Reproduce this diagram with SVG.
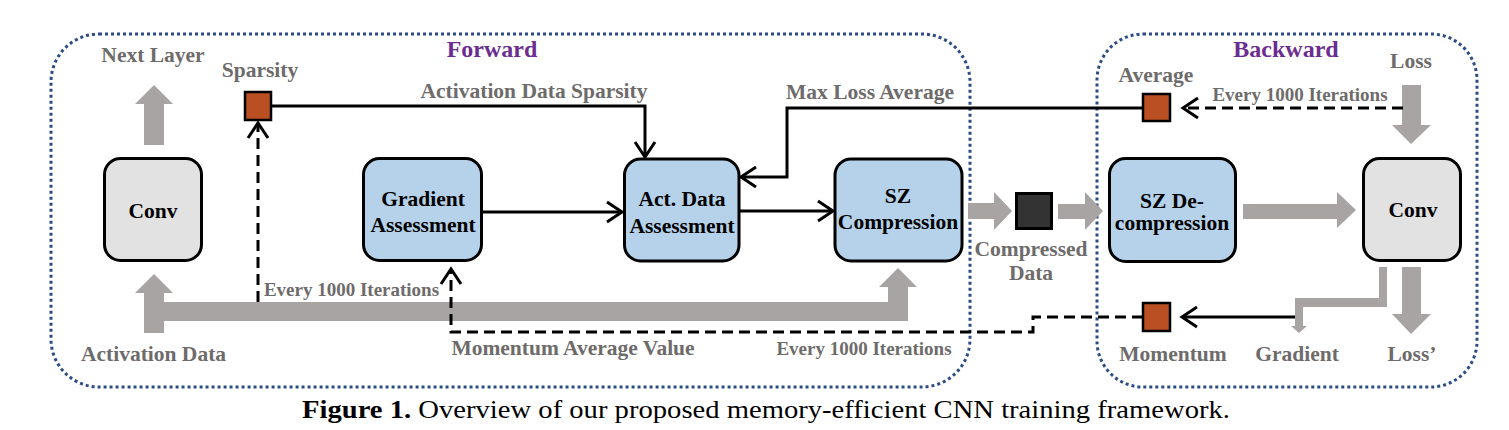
<svg xmlns="http://www.w3.org/2000/svg" width="1509" height="430" viewBox="0 0 1509 430">
<style>
text{font-family:"Liberation Serif","Times New Roman",serif;font-weight:bold;text-anchor:middle}
.lbl{font-size:21.5px;fill:#6e6b6b}
.it{font-size:19px;fill:#6e6b6b}
.ttl{font-size:24px;fill:#6b2d8f}
.bt{font-size:21.5px;fill:#000}
.frame{fill:none;stroke:#2b4c85;stroke-width:3;stroke-dasharray:3 3}
.box{stroke:#000;stroke-width:3}
.blue{fill:#b5d2ea}
.grey{fill:#e2e2e2}
.sq{fill:#b94f22;stroke:#000;stroke-width:2.5}
.conn{fill:none;stroke:#000;stroke-width:3}
.dash{stroke-dasharray:11 6}
.ga{fill:#a8a4a3}
</style>
<defs>
<marker id="ah" markerUnits="userSpaceOnUse" markerWidth="20" markerHeight="24" viewBox="0 0 20 22" refX="15" refY="11" orient="auto">
<path d="M1 1 L16 11 L1 21" fill="none" stroke="#000" stroke-width="3"/>
</marker>
</defs>

<g id="frames">
<rect class="frame" x="51" y="34" width="919" height="353" rx="48"/>
<rect class="frame" x="1097" y="34" width="380" height="353" rx="46"/>
<text class="ttl" x="492" y="57">Forward</text>
<text class="ttl" x="1286" y="57">Backward</text>
</g>

<g id="flows">
<polygon class="ga" points="144,145 144,104 135,104 154,85 173,104 164,104 164,145"/>
<polygon class="ga" points="144,333 144,293 135,293 154,274 173,293 164,293 164,302 888,302 888,287 879,287 898,268 917,287 908,287 908,321 164,321 164,333"/>
<polygon class="ga" points="968,203 994,203 994,192 1012,211 994,230 994,219 968,219"/>
<polygon class="ga" points="1058,204 1085,204 1085,192 1103,211 1085,230 1085,219 1058,219"/>
<polygon class="ga" points="1243,204 1337,204 1337,192 1356,210 1337,228 1337,219 1243,219"/>
<polygon class="ga" points="1402,85 1421,85 1421,125 1431,125 1411,144 1392,125 1402,125"/>
<polygon class="ga" points="1402,267 1421,267 1421,314 1431,314 1411,334 1392,314 1402,314"/>
<polygon class="ga" points="1379,267 1387,267 1387,307 1303,307 1303,326 1307,326 1299,333 1291,326 1295,326 1295,298 1379,298"/>
</g>

<g id="connectors">
<path class="conn" d="M272 106 H645 V156" marker-end="url(#ah)"/>
<path class="conn" d="M1143 108 H787 V177 H742" marker-end="url(#ah)"/>
<path class="conn" d="M483 212 H621" marker-end="url(#ah)"/>
<path class="conn" d="M740 211 H832" marker-end="url(#ah)"/>
<path class="conn dash" d="M1403 108 H1184" marker-end="url(#ah)"/>
<path class="conn" d="M1295 317 H1183" marker-end="url(#ah)"/>
<path class="conn dash" d="M1143 317 H1033 V332 H451 V270" marker-end="url(#ah)"/>
<path class="conn dash" d="M258 302 V124" marker-end="url(#ah)"/>
</g>

<g id="conv-fwd"><rect class="box grey" x="104.5" y="158.5" width="97" height="102" rx="16"/><text class="bt" x="153" y="218">Conv</text></g>
<g id="gradient-assessment"><rect class="box blue" x="363.5" y="158.5" width="118" height="102" rx="16"/><text class="bt" x="423" y="206">Gradient</text><text class="bt" x="423" y="232">Assessment</text></g>
<g id="act-data-assessment"><rect class="box blue" x="624.5" y="159" width="114.5" height="102" rx="16"/><text class="bt" x="682" y="206">Act. Data</text><text class="bt" x="682" y="233">Assessment</text></g>
<g id="sz-compression"><rect class="box blue" x="835" y="159" width="127" height="102" rx="16"/><text class="bt" x="898" y="203">SZ</text><text class="bt" x="898" y="229">Compression</text></g>
<g id="sz-decompression"><rect class="box blue" x="1109.5" y="158.5" width="126" height="103" rx="16"/><text class="bt" x="1172" y="208">SZ De-</text><text class="bt" x="1172" y="230">compression</text></g>
<g id="conv-bwd"><rect class="box grey" x="1363.5" y="158.5" width="97" height="102" rx="16"/><text class="bt" x="1413" y="217">Conv</text></g>

<g id="sparsity"><rect class="sq" x="245" y="92" width="26" height="28"/><text class="lbl" x="260" y="77">Sparsity</text></g>
<g id="average"><rect class="sq" x="1143" y="94" width="27" height="27"/><text class="lbl" x="1156" y="82">Average</text></g>
<g id="momentum"><rect class="sq" x="1143" y="303" width="27" height="28"/><text class="lbl" x="1173" y="361">Momentum</text></g>
<g id="compressed-data"><rect x="1016.5" y="193.5" width="35" height="35" fill="#333" stroke="#000" stroke-width="3"/><text class="lbl" x="1031" y="256">Compressed</text><text class="lbl" x="1031" y="280">Data</text></g>

<g id="labels">
<text class="lbl" x="153" y="62">Next Layer</text>
<text class="lbl" x="534" y="98">Activation Data Sparsity</text>
<text class="lbl" x="870" y="99">Max Loss Average</text>
<text class="lbl" x="1411" y="68">Loss</text>
<text class="it" x="1300" y="101">Every 1000 Iterations</text>
<text class="it" x="351.5" y="296">Every 1000 Iterations</text>
<text class="it" x="864" y="355">Every 1000 Iterations</text>
<text class="lbl" x="153.5" y="361">Activation Data</text>
<text class="lbl" x="573" y="355">Momentum Average Value</text>
<text class="lbl" x="1297" y="361">Gradient</text>
<text class="lbl" x="1412" y="361">Loss’</text>
</g>

<text x="302" y="418" style="text-anchor:start;font-weight:normal;font-size:25px;fill:#000" textLength="928" lengthAdjust="spacingAndGlyphs"><tspan font-weight="bold">Figure 1.</tspan> Overview of our proposed memory-efficient CNN training framework.</text>
</svg>
